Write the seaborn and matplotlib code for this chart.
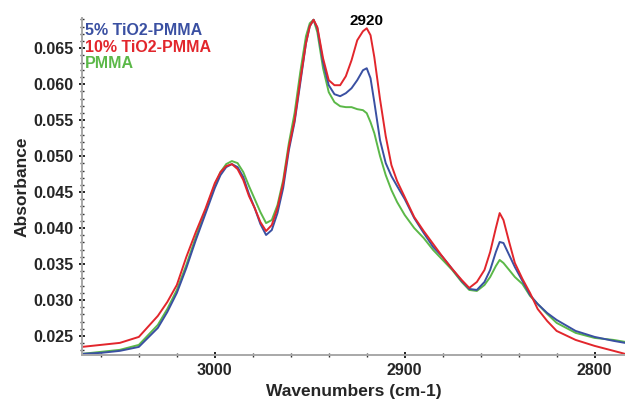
import matplotlib
matplotlib.use("Agg")
import matplotlib.pyplot as plt
from matplotlib.ticker import MultipleLocator, FixedLocator
import seaborn as sns
import pandas as pd

# FTIR spectra in the C-H stretching region
wavenumber = [3070, 3060, 3050, 3040, 3030, 3025, 3020, 3015, 3010, 3005,
              3000, 2997, 2994, 2991, 2988, 2985, 2982, 2979, 2976, 2973,
              2970, 2967, 2964, 2961, 2958, 2955, 2952, 2950, 2948, 2946,
              2943, 2940, 2937, 2934, 2931, 2928, 2925, 2922, 2920, 2918,
              2916, 2913, 2910, 2907, 2904, 2900, 2895, 2890, 2885, 2880,
              2875, 2870, 2866, 2862, 2858, 2855, 2852, 2850, 2848, 2845,
              2842, 2838, 2834, 2830, 2825, 2820, 2810, 2800, 2790, 2784]

tio2_5 = [0.02250, 0.02264, 0.02292, 0.02347, 0.02611, 0.02833, 0.03097, 0.03444, 0.03833, 0.04194,
          0.04556, 0.04736, 0.04847, 0.04889, 0.04847, 0.04708, 0.04472, 0.04278, 0.04056, 0.03903,
          0.03972, 0.04208, 0.04556, 0.05083, 0.05472, 0.06014, 0.06569, 0.06806, 0.06896, 0.06778,
          0.06306, 0.05986, 0.05861, 0.05833, 0.05875, 0.05944, 0.06056, 0.06194, 0.06222, 0.06083,
          0.05750, 0.05222, 0.04903, 0.04722, 0.04583, 0.04403, 0.04139, 0.03931, 0.03736, 0.03597,
          0.03431, 0.03264, 0.03153, 0.03139, 0.03250, 0.03417, 0.03667, 0.03806, 0.03792, 0.03625,
          0.03458, 0.03264, 0.03069, 0.02944, 0.02819, 0.02722, 0.02569, 0.02486, 0.02431, 0.02403]

tio2_10 = [0.02347, 0.02375, 0.02403, 0.02486, 0.02778, 0.02972, 0.03208, 0.03597, 0.03944, 0.04264,
           0.04625, 0.04778, 0.04861, 0.04889, 0.04819, 0.04667, 0.04444, 0.04278, 0.04083, 0.03958,
           0.04042, 0.04278, 0.04625, 0.05125, 0.05500, 0.06056, 0.06569, 0.06806, 0.06896, 0.06792,
           0.06361, 0.06056, 0.05986, 0.05986, 0.06111, 0.06333, 0.06611, 0.06736, 0.06778, 0.06681,
           0.06375, 0.05792, 0.05278, 0.04875, 0.04653, 0.04431, 0.04153, 0.03958, 0.03778, 0.03597,
           0.03431, 0.03278, 0.03167, 0.03250, 0.03417, 0.03667, 0.04000, 0.04208, 0.04111, 0.03806,
           0.03514, 0.03292, 0.03097, 0.02875, 0.02708, 0.02569, 0.02444, 0.02361, 0.02292, 0.02250]

pmma = [0.02250, 0.02278, 0.02306, 0.02375, 0.02653, 0.02875, 0.03139, 0.03486, 0.03875, 0.04236,
        0.04597, 0.04778, 0.04889, 0.04931, 0.04903, 0.04778, 0.04583, 0.04403, 0.04222, 0.04069,
        0.04111, 0.04319, 0.04667, 0.05181, 0.05597, 0.06167, 0.06667, 0.06847, 0.06896, 0.06722,
        0.06222, 0.05889, 0.05750, 0.05694, 0.05681, 0.05681, 0.05653, 0.05639, 0.05597, 0.05472,
        0.05319, 0.05000, 0.04736, 0.04528, 0.04361, 0.04181, 0.04000, 0.03861, 0.03694, 0.03556,
        0.03417, 0.03250, 0.03139, 0.03125, 0.03208, 0.03319, 0.03472, 0.03556, 0.03514, 0.03417,
        0.03319, 0.03222, 0.03056, 0.02944, 0.02806, 0.02681, 0.02542, 0.02472, 0.02444, 0.02417]

series_names = ["5% TiO2-PMMA", "10% TiO2-PMMA", "PMMA"]
series_colors = ["#3a50a2", "#e2262c", "#5bb848"]
peak_label = "2920"
peak_position = 2920
x_ticks = [3000, 2900, 2800]
y_ticks = [0.025, 0.030, 0.035, 0.040, 0.045, 0.050, 0.055, 0.060, 0.065]

frames = []
for name, vals in zip(series_names, [tio2_5, tio2_10, pmma]):
    frames.append(pd.DataFrame({"wavenumber": wavenumber, "absorbance": vals, "sample": name}))
df = pd.concat(frames, ignore_index=True)

sns.set_theme(style="white")
plt.rcParams["font.family"] = ["Liberation Sans", "DejaVu Sans"]
plt.rcParams["font.weight"] = "bold"

fig = plt.figure(figsize=(6.25, 4.01), dpi=100)
ax = fig.add_axes([0.131, 0.115, 0.869, 0.840])

# PMMA underneath, then 5 %, then 10 % on top
order = ["PMMA", "5% TiO2-PMMA", "10% TiO2-PMMA"]
palette = dict(zip(series_names, series_colors))
for name in order:
    sns.lineplot(data=df[df["sample"] == name], x="wavenumber", y="absorbance",
                 color=palette[name], linewidth=1.4, sort=False, ax=ax,
                 legend=False, estimator=None, solid_joinstyle="round")

ax.set_xlim(3070, 2784)
ax.set_ylim(0.02236, 0.0692)

ax.xaxis.set_major_locator(FixedLocator(x_ticks))
ax.xaxis.set_minor_locator(MultipleLocator(20))
ax.yaxis.set_major_locator(FixedLocator(y_ticks))
ax.yaxis.set_minor_locator(MultipleLocator(0.001))
ax.set_yticklabels([f"{v:.3f}" for v in y_ticks])

for side in ["top", "right"]:
    ax.spines[side].set_visible(False)
for side in ["left", "bottom"]:
    ax.spines[side].set_color("#a8a8a8")
    ax.spines[side].set_linewidth(1.4)

ax.tick_params(axis="both", which="major", direction="inout", length=4, width=1.2,
               color="black", labelsize=11.5, pad=4, left=True, bottom=True)
ax.tick_params(axis="both", which="minor", direction="inout", length=3, width=1.0,
               color="#333333", left=True, bottom=True)
for lab in ax.get_xticklabels() + ax.get_yticklabels():
    lab.set_fontweight("bold")

ax.set_xlabel("Wavenumbers (cm-1)", fontsize=12.5, fontweight="bold", labelpad=4)
ax.set_ylabel("Absorbance", fontsize=12.5, fontweight="bold", labelpad=3)

# coloured sample labels in the upper-left corner
for i, (name, col) in enumerate(zip(series_names, series_colors)):
    ax.text(0.006, 0.964 - i * 0.05, name, color=col, fontsize=11.5,
            fontweight="bold", transform=ax.transAxes, ha="left", va="center")

ax.text(peak_position, 0.0688, peak_label, ha="center", va="center",
        fontsize=11, fontweight="bold", color="black")

fig.savefig("out.png", dpi=100, facecolor="white")
